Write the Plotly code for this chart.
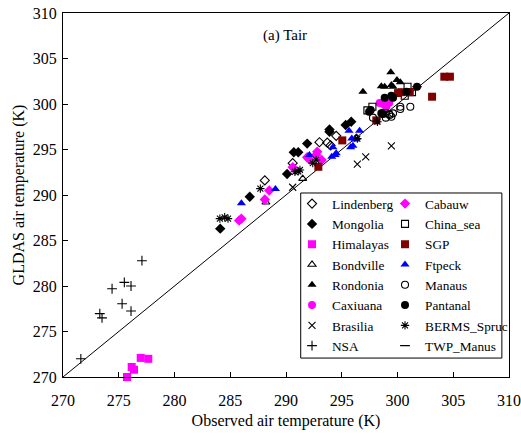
import plotly.graph_objects as go

# Observed vs GLDAS air temperature (K) per site
lindenberg_obs = [288.1, 290.6, 293.0, 293.7, 294.0, 294.5]
lindenberg_gldas = [291.6, 293.5, 295.8, 295.75, 295.45, 296.5]

cabauw_obs = [285.8, 286.0, 288.5, 288.1, 290.6, 291.9, 292.1, 292.8, 292.7, 293.2]
cabauw_gldas = [287.2, 287.4, 290.5, 289.5, 293.05, 294.15, 293.9, 294.75, 294.4, 293.85]

mongolia_obs = [284.1, 286.75, 290.1, 290.7, 291.1, 291.9, 293.9, 293.9, 295.35, 295.85]
mongolia_gldas = [286.3, 289.8, 292.3, 294.7, 294.7, 295.65, 297.2, 296.95, 297.7, 298.05]

china_sea_obs = [297.3, 297.75, 298.85, 300.65, 300.9, 301.3]
china_sea_gldas = [299.3, 299.7, 299.0, 300.9, 301.9, 301.3]

himalayas_obs = [276.97, 277.65, 276.16, 276.37, 275.74]
himalayas_gldas = [272.1, 272.0, 271.1, 270.8, 270.0]

sgp_obs = [292.9, 295.05, 298.1, 300.05, 300.35, 301.1, 303.1, 304.2, 304.7]
sgp_gldas = [293.1, 296.0, 298.2, 301.2, 301.3, 301.3, 300.8, 303.0, 303.0]

bondville_obs = [288.2, 291.5, 296.3]
bondville_gldas = [289.2, 291.8, 296.3]

ftpeck_obs = [286.0, 289.05, 292.1, 294.1, 294.5, 295.65, 296.6, 295.9, 296.2, 296.0, 295.8, 294.2, 294.4]
ftpeck_gldas = [289.1, 290.65, 294.4, 294.2, 294.6, 297.05, 297.05, 296.2, 296.1, 295.4, 295.25, 295.25, 294.4]

rondonia_obs = [296.9, 298.55, 298.85, 299.45, 299.6, 299.95, 300.25, 299.4]
rondonia_gldas = [301.35, 301.95, 301.9, 302.1, 301.9, 302.65, 302.4, 303.5]

manaus_obs = [297.8, 298.95, 299.3, 299.6, 299.25, 299.45, 300.25, 300.25, 301.15]
manaus_gldas = [298.5, 298.5, 298.8, 298.97, 298.9, 298.6, 299.7, 299.45, 299.7]

caxiuana_obs = [298.4, 298.85, 299.25, 299.0]
caxiuana_gldas = [300.1, 299.9, 300.15, 299.7]

pantanal_obs = [297.6, 297.45, 298.55, 298.7, 298.85, 299.45, 299.6, 300.8, 301.75]
pantanal_gldas = [299.35, 299.15, 298.97, 298.9, 300.7, 300.9, 300.7, 301.35, 301.9]

brasilia_obs = [290.6, 296.4, 297.15, 299.45]
brasilia_gldas = [290.85, 293.4, 294.2, 295.4]

berms_obs = [284.07, 284.5, 284.8, 287.7, 291.1, 290.8, 291.25, 292.7, 292.4, 296.4, 298.2]
berms_gldas = [287.4, 287.55, 287.4, 290.7, 292.6, 292.55, 292.75, 293.85, 293.5, 296.2, 298.05]

nsa_obs = [277.08, 275.5, 276.1, 274.4, 275.3, 276.1, 273.3, 273.5, 271.6]
nsa_gldas = [282.78, 280.4, 280.0, 279.7, 278.05, 277.25, 276.96, 276.5, 272.0]

twp_obs = [301.75, 300.8]
twp_gldas = [301.9, 301.35]

axis_range = [270, 310]

BLACK = "#000000"
MAGENTA = "#FF00FF"
BLUE = "#0000FF"
MAROON = "#800000"

# (name, x, y, symbol, colour, legend column)
sites = [
    ("Lindenberg", lindenberg_obs, lindenberg_gldas, "diamond-open", BLACK, "legend"),
    ("Mongolia", mongolia_obs, mongolia_gldas, "diamond", BLACK, "legend"),
    ("Himalayas", himalayas_obs, himalayas_gldas, "square", MAGENTA, "legend"),
    ("Bondville", bondville_obs, bondville_gldas, "triangle-up-open", BLACK, "legend"),
    ("Rondonia", rondonia_obs, rondonia_gldas, "triangle-up", BLACK, "legend"),
    ("Caxiuana", caxiuana_obs, caxiuana_gldas, "circle", MAGENTA, "legend"),
    ("Brasilia", brasilia_obs, brasilia_gldas, "x-thin-open", BLACK, "legend"),
    ("NSA", nsa_obs, nsa_gldas, "cross-thin-open", BLACK, "legend"),
    ("Cabauw", cabauw_obs, cabauw_gldas, "diamond", MAGENTA, "legend2"),
    ("China_sea", china_sea_obs, china_sea_gldas, "square-open", BLACK, "legend2"),
    ("SGP", sgp_obs, sgp_gldas, "square", MAROON, "legend2"),
    ("Ftpeck", ftpeck_obs, ftpeck_gldas, "triangle-up", BLUE, "legend2"),
    ("Manaus", manaus_obs, manaus_gldas, "circle-open", BLACK, "legend2"),
    ("Pantanal", pantanal_obs, pantanal_gldas, "circle", BLACK, "legend2"),
    ("BERMS_Spruc", berms_obs, berms_gldas, "asterisk-open", BLACK, "legend2"),
    ("TWP_Manus", twp_obs, twp_gldas, "line-ew-open", BLACK, "legend2"),
]

fig = go.Figure()

# 1:1 reference line
fig.add_trace(go.Scatter(
    x=axis_range, y=axis_range, mode="lines",
    line=dict(color=BLACK, width=1), showlegend=False, hoverinfo="skip",
))

for name, xs, ys, symbol, colour, leg in sites:
    thin = symbol.endswith("-open")
    fig.add_trace(go.Scatter(
        x=xs, y=ys, mode="markers", name=name, legend=leg, cliponaxis=False,
        marker=dict(
            symbol=symbol, size=7 if thin else 8, color=colour,
            line=dict(color=colour, width=1.1 if thin else 0),
        ),
    ))

serif = "Liberation Serif, Times New Roman, serif"
legend_style = dict(
    bgcolor="rgba(0,0,0,0)", borderwidth=0,
    font=dict(family=serif, size=13.3, color=BLACK),
    xanchor="left", yanchor="top", itemwidth=30, tracegroupgap=0,
)

fig.update_layout(
    width=521, height=439,
    margin=dict(l=63, r=12, t=13, b=62, autoexpand=False),
    paper_bgcolor="white", plot_bgcolor="white",
    font=dict(family=serif, size=16, color=BLACK),
    showlegend=True,
    legend=dict(x=0.5135, y=0.518, **legend_style),
    legend2=dict(x=0.722, y=0.518, **legend_style),
    xaxis=dict(
        range=axis_range, dtick=5, showgrid=False, zeroline=False,
        showline=True, linecolor=BLACK, linewidth=1, mirror=True,
        ticks="inside", ticklen=5, tickcolor=BLACK, automargin=False,
        ticklabelstandoff=9,
        title=dict(text="Observed air temperature (K)", font=dict(size=16), standoff=6),
    ),
    yaxis=dict(
        range=axis_range, dtick=5, showgrid=False, zeroline=False,
        showline=True, linecolor=BLACK, linewidth=1, mirror=True,
        ticks="inside", ticklen=5, tickcolor=BLACK, automargin=False,
        ticklabelstandoff=2,
        title=dict(text="GLDAS air temperature (K)", font=dict(size=16), standoff=4),
    ),
    shapes=[dict(
        type="rect", xref="paper", yref="paper",
        x0=0.533, x1=0.984, y0=0.052, y1=0.5055,
        line=dict(color=BLACK, width=1), fillcolor="white", layer="above",
    )],
    annotations=[dict(
        x=289.9, y=307.5, xref="x", yref="y", text="(a) Tair",
        showarrow=False, font=dict(family=serif, size=15, color=BLACK),
    )],
)

fig.write_html("out.html")
